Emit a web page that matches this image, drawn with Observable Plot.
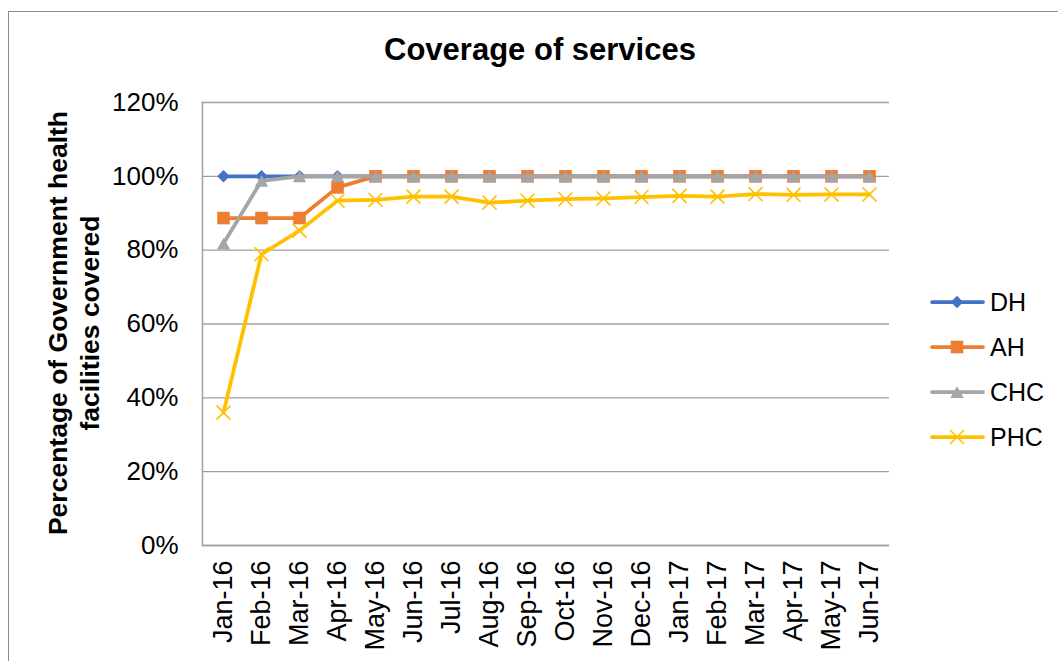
<!DOCTYPE html>
<html>
<head>
<meta charset="utf-8">
<script src="https://cdn.jsdelivr.net/npm/d3@7"></script>
<script src="https://cdn.jsdelivr.net/npm/@observablehq/plot@0.6"></script>
<style>
  html, body { margin: 0; padding: 0; background: #fff; }
  #root { position: relative; width: 1058px; height: 661px; overflow: hidden; font-family: "Liberation Sans", Arial, sans-serif; color: #000; }
  #frame { position: absolute; left: 8px; top: 11px; width: 1100px; height: 700px; border: 1.5px solid #8c8c8c; box-sizing: border-box; }
  #title { position: absolute; left: 540px; top: 34px; transform: translateX(-50%); font-size: 31px; line-height: 31px; font-weight: bold; white-space: nowrap; }
  #ylabel { position: absolute; left: 74px; top: 323px; transform: translate(-50%, -50%) rotate(-90deg); font-size: 26.5px; line-height: 32px; font-weight: bold; white-space: nowrap; text-align: center; }
  #chart { position: absolute; left: 0; top: 0; }
  .leg { position: absolute; left: 930px; height: 30px; display: flex; align-items: center; font-size: 25px; }
  .leg svg { display: block; margin-right: 5px; }
</style>
</head>
<body>
<div id="root">
  <div id="frame"></div>
  <div id="chart"></div>
  <div id="title">Coverage of services</div>
  <div id="ylabel">Percentage of Government health<br>facilities covered</div>
  <div id="legend"></div>
</div>
<script>
const months = ["Jan-16","Feb-16","Mar-16","Apr-16","May-16","Jun-16","Jul-16","Aug-16","Sep-16","Oct-16","Nov-16","Dec-16","Jan-17","Feb-17","Mar-17","Apr-17","May-17","Jun-17"];
const DH  = [1.00,1.00,1.00,1.00,1.00,1.00,1.00,1.00,1.00,1.00,1.00,1.00,1.00,1.00,1.00,1.00,1.00,1.00];
const AH  = [0.887,0.887,0.887,0.970,1.00,1.00,1.00,1.00,1.00,1.00,1.00,1.00,1.00,1.00,1.00,1.00,1.00,1.00];
const CHC = [0.818,0.988,1.00,1.00,1.00,1.00,1.00,1.00,1.00,1.00,1.00,1.00,1.00,1.00,1.00,1.00,1.00,1.00];
const PHC = [0.360,0.789,0.853,0.934,0.936,0.945,0.945,0.929,0.934,0.938,0.940,0.944,0.947,0.945,0.952,0.950,0.951,0.951];
const yTicks = [0,0.2,0.4,0.6,0.8,1.0,1.2];

const seriesNames = ["DH","AH","CHC","PHC"];
const seriesValues = [DH, AH, CHC, PHC];
const colors = {DH:"#4472C4", AH:"#ED7D31", CHC:"#A5A5A5", PHC:"#FFC000"};
const symbols = {DH:"diamond2", AH:"square", CHC:"triangle", PHC:"times"};
const radius = {DH:5.6, AH:7.1, CHC:5, PHC:6.4};

const marks = [
  Plot.gridY(yTicks, {stroke:"#a0a0a0", strokeOpacity:1, strokeWidth:1.3}),
  Plot.ruleY([0], {stroke:"#a0a0a0", strokeWidth:1.5}),
  Plot.frame({anchor:"left", stroke:"#a0a0a0", strokeWidth:1.5}),
  Plot.axisY({ticks: yTicks, tickFormat: d3.format(".0%"), tickSize:0, tickPadding:24, label:null}),
  Plot.axisX({tickRotate:-90, tickSize:0, tickPadding:15, label:null})
];
seriesNames.forEach((name, i) => {
  const data = months.map((m, j) => ({month:m, value:seriesValues[i][j]}));
  marks.push(Plot.line(data, {x:"month", y:"value", stroke:colors[name], strokeWidth:3.75, strokeLinejoin:"round", strokeLinecap:"round"}));
  if (name === "PHC") {
    marks.push(Plot.dot(data, {x:"month", y:"value", symbol:symbols[name], r:radius[name], stroke:colors[name], strokeWidth:1.6}));
  } else {
    marks.push(Plot.dot(data, {x:"month", y:"value", symbol:symbols[name], r:radius[name], fill:colors[name], stroke:"none", dy: name === "CHC" ? 2 : 0}));
  }
});

const chart = Plot.plot({
  width: 1058,
  height: 661,
  marginLeft: 202,
  marginRight: 169,
  marginTop: 102,
  marginBottom: 116,
  style: {fontFamily: "'Liberation Sans', Arial, sans-serif", fontSize: "26px", color: "#000", background: "transparent", overflow: "visible"},
  x: {type: "point", domain: months, padding: 0.5},
  y: {domain: [0, 1.2]},
  marks
});
document.getElementById("chart").appendChild(chart);

// enforce tick label sizes on every axis text
chart.querySelectorAll("text").forEach(t => {
  const g = t.closest("g[aria-label]");
  const lab = g ? g.getAttribute("aria-label") : "";
  const size = lab.startsWith("x") ? "27px" : "26px";
  t.setAttribute("font-size", size);
  t.style.fontSize = size;
});

// legend
const legend = document.getElementById("legend");
seriesNames.forEach((name, i) => {
  const row = document.createElement("div");
  row.className = "leg";
  row.style.top = (302 + 45 * i - 15) + "px";
  const svg = d3.create("svg").attr("width", 55).attr("height", 30);
  svg.append("line").attr("x1", 2).attr("x2", 53).attr("y1", 15).attr("y2", 15)
    .attr("stroke", colors[name]).attr("stroke-width", 3.75).attr("stroke-linecap", "round");
  const symMap = {diamond2: d3.symbolDiamond2, square: d3.symbolSquare, triangle: d3.symbolTriangle, times: d3.symbolTimes};
  const size = Math.PI * radius[name] * radius[name];
  const p = svg.append("path").attr("d", d3.symbol(symMap[symbols[name]], size)())
    .attr("transform", `translate(27,${name === "CHC" ? 17 : 15})`);
  if (name === "PHC") p.attr("fill", "none").attr("stroke", colors[name]).attr("stroke-width", 1.6);
  else p.attr("fill", colors[name]);
  row.appendChild(svg.node());
  const t = document.createElement("span");
  t.textContent = name;
  row.appendChild(t);
  legend.appendChild(row);
});
</script>
</body>
</html>
